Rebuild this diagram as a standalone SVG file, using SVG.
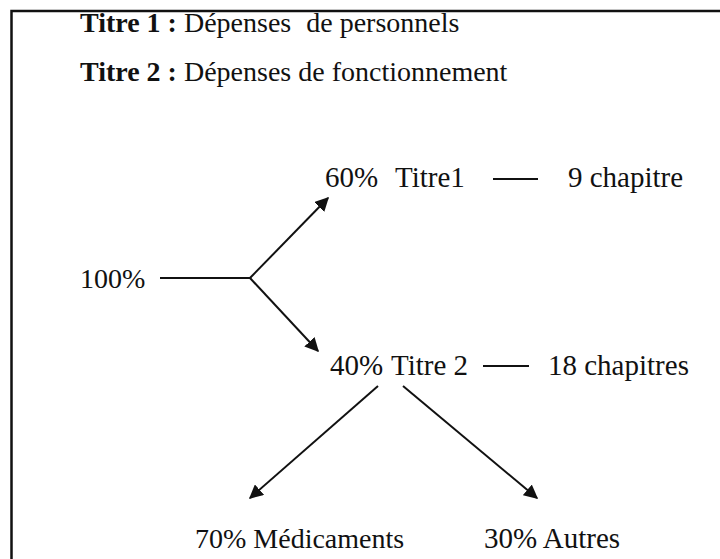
<svg xmlns="http://www.w3.org/2000/svg" width="720" height="559" viewBox="0 0 720 559">
  <style>
    text { font-family: "Liberation Serif", "Times New Roman", serif; font-size: 29px; fill: #111; }
    .b { font-weight: bold; }
    .s { font-size: 28px; }
    .ln { stroke: #111; stroke-width: 2; fill: none; }
    .frame { stroke: #111; stroke-width: 2.5; fill: none; }
  </style>
  <defs>
    <marker id="arrow" viewBox="0 0 10 10" refX="9" refY="5" markerWidth="14" markerHeight="14" markerUnits="userSpaceOnUse" orient="auto">
      <path d="M0,0 L10,5 L0,10 z" fill="#111"/>
    </marker>
  </defs>
  <rect width="720" height="559" fill="#fff"/>
  <!-- open frame: top and left edges only -->
  <path class="frame" d="M720,11 H11.5 V559"/>

  <!-- legend -->
  <g id="legend">
    <text class="s" x="80" y="32"><tspan class="b">Titre 1 :</tspan> Dépenses <tspan dx="8">de personnels</tspan></text>
    <text class="s" x="80" y="81"><tspan class="b">Titre 2 :</tspan> Dépenses de fonctionnement</text>
  </g>

  <g id="total"><text class="s" x="80" y="288">100%</text></g>
  <g id="titre1"><text x="325" y="187">60%</text><text x="395" y="187">Titre1</text></g>
  <g id="chap1"><text x="568" y="187">9 chapitre</text></g>
  <g id="titre2"><text x="330" y="375">40%</text><text x="391" y="375">Titre 2</text></g>
  <g id="chap2"><text x="548" y="375">18 chapitres</text></g>
  <g id="medic"><text class="s" x="195" y="548">70% Médicaments</text></g>
  <g id="autres"><text x="484" y="548">30% Autres</text></g>

  <g id="connectors">
    <path class="ln" d="M160,278 H250"/>
    <path class="ln" d="M250,278 L328,198" marker-end="url(#arrow)"/>
    <path class="ln" d="M250,278 L318,351" marker-end="url(#arrow)"/>
    <path class="ln" d="M493,179 H538"/>
    <path class="ln" d="M483,366 H529"/>
    <path class="ln" d="M378,386 L250,498" marker-end="url(#arrow)"/>
    <path class="ln" d="M403,386 L537,498" marker-end="url(#arrow)"/>
  </g>
</svg>
